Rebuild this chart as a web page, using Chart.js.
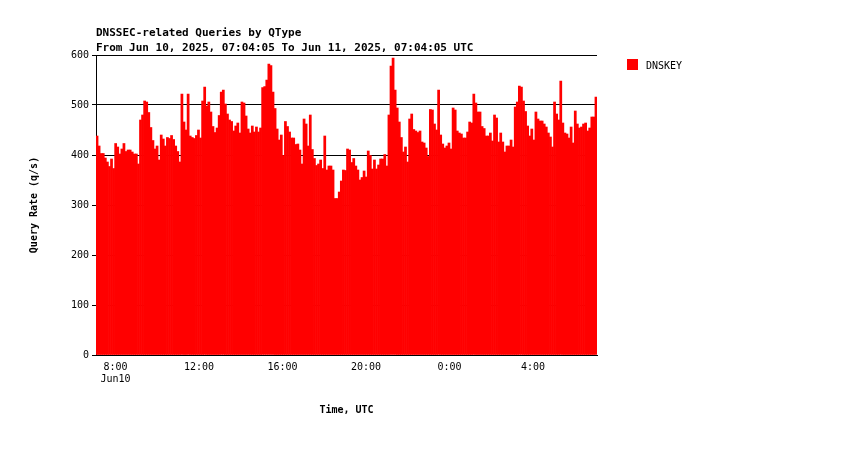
<!DOCTYPE html><html><head><script src="https://cdn.jsdelivr.net/npm/chart.js@4"></script>
<style>body{margin:0;background:#fff}</style></head><body><canvas id="c" width="850" height="450" style="width:850px;height:450px"></canvas>
<script>
const seriesName = "DNSKEY";
const startHour = 7 + 4/60 + 5/3600;
const spanHours = 24;
const tickHours = [8,12,16,20,24,28];
const dnskey = [438,418,403,403,394,386,377,392,373,423,416,402,412,423,407,410,410,406,402,402,382,470,480,508,506,485,455,429,412,418,390,440,432,418,435,433,439,431,418,407,386,522,466,450,522,438,435,433,439,450,434,508,536,498,506,486,457,445,454,479,526,530,502,482,470,467,448,458,464,444,506,504,478,452,444,458,446,456,446,454,535,
537,550,582,579,526,493,452,430,440,399,467,457,446,434,434,421,422,410,382,472,462,418,480,411,393,379,382,390,373,438,370,378,378,370,313,313,326,348,370,369,412,410,385,393,378,370,350,355,368,356,408,399,372,390,372,380,392,392,401,378,480,578,594,530,494,466,435,406,416,386,472,482,451,448,445,448,426,424,414,397,491,
490,462,450,530,440,422,414,418,424,412,494,490,448,444,442,434,434,446,466,464,522,504,486,486,457,453,438,438,444,428,480,474,426,444,426,406,418,418,430,416,496,506,538,536,508,487,458,438,452,430,486,472,468,468,462,456,444,436,416,506,482,470,548,464,444,442,434,456,424,488,462,454,456,462,464,448,454,476,476,516];
const step = spanHours / dnskey.length;
const pts = dnskey.map((v,i)=>({x:startHour+(i+0.5)*step,y:v}));
const F = "'DejaVu Sans Mono', monospace";
const txt = {id:'txt',afterDraw(c){const g=c.ctx;g.save();g.fillStyle='#000';g.font="bold 11px "+F;g.textBaseline='alphabetic';
g.fillText("DNSSEC-related Queries by QType",96,36);g.fillText("From Jun 10, 2025, 07:04:05 To Jun 11, 2025, 07:04:05 UTC",96,51);
g.fillStyle='#ff0000';g.fillRect(627,59,11,11);g.fillStyle='#000';g.font="10px "+F;g.fillText(seriesName,646,69);g.restore();}};
new Chart(document.getElementById('c'),{type:'bar',data:{datasets:[{data:pts,backgroundColor:'#ff0000',barPercentage:1,categoryPercentage:1,borderWidth:0}]},
options:{responsive:false,animation:false,layout:{padding:{top:55,right:253,left:24,bottom:30}},
plugins:{legend:{display:false},tooltip:{enabled:false}},
scales:{x:{type:'linear',offset:false,bounds:'data',min:startHour,max:startHour+spanHours,afterFit(s){s.height=65},
afterBuildTicks(s){s.ticks=tickHours.map(v=>({value:v}))},
grid:{display:false,offset:false,drawTicks:true,tickLength:4,color:'#000'},border:{color:'#000'},
ticks:{color:'#000',font:{family:F,size:10},maxRotation:0,autoSkip:false,padding:2,callback:(v)=>{const s=(v%24)+":00";return v===8?[s,"Jun10"]:s;}},
title:{display:true,text:"Time, UTC",color:'#000',font:{family:F,size:10,weight:'bold'},padding:{top:4}}},
y:{min:0,max:600,afterFit(s){s.width=72},ticks:{stepSize:100,color:'#000',font:{family:F,size:10}},
grid:{color:'#000',drawTicks:true,tickLength:4},border:{color:'#000'},
title:{display:true,text:"Query Rate (q/s)",color:'#000',font:{family:F,size:10,weight:'bold'},padding:{bottom:4}}}}},plugins:[txt]});
</script></body></html>
